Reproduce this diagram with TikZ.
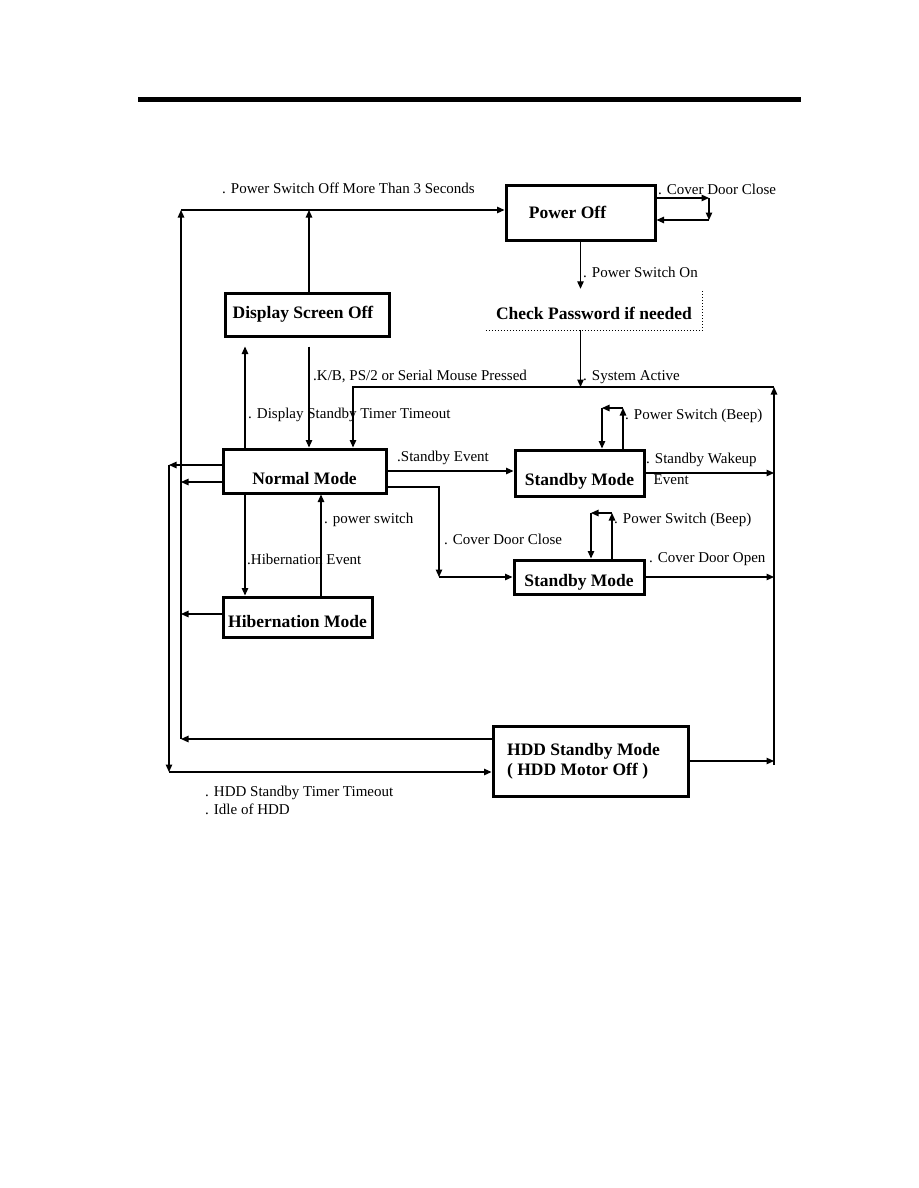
\documentclass[tikz,border=0pt]{standalone}
\usepackage{fontspec}
\setmainfont{Liberation Serif}
\usepackage{tikz}
\usetikzlibrary{arrows.meta, calc, positioning}

\begin{document}
\begin{tikzpicture}[
        x=1pt,
        y=-1pt,
        line join=miter,
        flow/.style={line width=1.2pt, -{Triangle[length=7.5pt, width=6.5pt]}},
        statebox/.style={draw, line width=3pt, inner sep=0pt,
            font=\fontsize{17.5}{20}\selectfont\bfseries},
        tag/.style={anchor=west, inner sep=0pt,
            font=\fontsize{15}{17}\selectfont}
    ]

        \useasboundingbox (0,0) rectangle (918,1188);

        % =================================
        % THANH TIÊU ĐỀ
        % =================================
        \draw[line width=5pt] (138,99.5) -- (801,99.5);

        % =================================
        % CÁC HỘP TRẠNG THÁI
        % =================================
        \node[statebox, minimum width=149, minimum height=55]
            (poweroff) at (580.5,212.5) {Power Off\hspace*{26pt}};
        \node[statebox, minimum width=164, minimum height=43]
            (dispoff) at (307,314.5) {Display Screen Off\hspace*{8pt}};
        \node[statebox, minimum width=163, minimum height=44,
            text height=27.6pt, text depth=0pt]
            (normal) at (304.5,471) {Normal Mode};
        \node[statebox, minimum width=149, minimum height=40,
            text height=21.6pt, text depth=0pt]
            (hiber) at (297.5,617) {Hibernation Mode};
        \node[statebox, minimum width=129, minimum height=46,
            text height=25.6pt, text depth=0pt]
            (standbyA) at (579.5,473) {Standby Mode};
        \node[statebox, minimum width=130, minimum height=34,
            text height=19.6pt, text depth=0pt]
            (standbyB) at (579,577) {Standby Mode};
        \node[statebox, minimum width=195, minimum height=70, align=left]
            (hdd) at (590.5,761) {HDD Standby Mode\hspace*{14pt}\\( HDD Motor Off )};

        % Check Password - khung chấm
        \node[inner sep=0pt, minimum width=216, minimum height=41,
            text height=20.6pt, text depth=0pt,
            font=\fontsize{17.5}{20}\selectfont\bfseries]
            (check) at (594,309.5) {Check Password if needed};
        \draw[dotted, line width=1pt]
            (check.south west) -- (check.south east) -- (check.north east);

        % =================================
        % ĐIỂM GÓC
        % =================================
        \coordinate (topL) at (181,210);
        \coordinate (outerBot) at (169,772);
        \coordinate (rightTop) at (774,387);
        \coordinate (rightBot) at (774,765);
        \coordinate (kbCorner) at (353,387);
        \coordinate (coverBot) at (439,577);
        \coordinate (doorTop) at (709,198);
        \coordinate (doorBot) at (709,220);
        \coordinate (beepA) at (602,408);
        \coordinate (beepB) at (591,513);

        % =================================
        % ĐƯỜNG NỐI
        % =================================

        % trục trái trong + đường trên
        \draw[flow] ([yshift=22]hdd.west) -- ([yshift=22]hdd.west -| topL);
        \draw[flow] ([yshift=22]hdd.west -| topL) -- (topL);
        \draw[flow] (topL) -- (topL -| poweroff.west);
        \draw[flow] ([xshift=2]dispoff.north) -- ([xshift=2]dispoff.north |- topL);

        % Cover Door Close (Power Off)
        \draw[flow] (poweroff.east |- doorTop) -- (doorTop);
        \draw[flow] (doorTop) -- (doorBot);
        \draw[flow] (doorBot) -- (doorBot -| poweroff.east);

        % Power Off -> Check -> System Active
        \draw[flow] (poweroff.south) -- (poweroff.south |- check.north);
        \draw[flow] (poweroff.south |- check.south) -- (poweroff.south |- rightTop);

        % trục phải
        \draw[flow] (rightBot) -- (rightTop);
        \draw[flow] (rightTop) -- (kbCorner) -- (kbCorner |- normal.north);

        % Display Screen Off <-> Normal Mode
        \draw[flow, shorten <=9pt] ([xshift=2]dispoff.south)
            -- ([xshift=2]dispoff.south |- normal.north);
        \draw[flow, shorten >=9pt] ([xshift=-59.5]normal.north)
            -- ([xshift=-59.5]normal.north |- dispoff.south);

        % Normal Mode -> trái
        \draw[flow] ([yshift=6]normal.west) -- ([yshift=6]normal.west -| outerBot);
        \draw[flow] ([yshift=-11]normal.west) -- ([yshift=-11]normal.west -| topL);
        \draw[flow] ([yshift=6]normal.west -| outerBot) -- (outerBot);
        \draw[flow] (outerBot) -- (outerBot -| hdd.west);

        % Normal Mode <-> Hibernation Mode
        \draw[flow] ([xshift=-59.5]normal.south) -- ([xshift=-59.5]normal.south |- hiber.north);
        \draw[flow] ([xshift=16.5]normal.south |- hiber.north) -- ([xshift=16.5]normal.south);
        \draw[flow] ([yshift=3]hiber.west) -- ([yshift=3]hiber.west -| topL);

        % Normal Mode -> Standby Mode
        \draw[flow] (normal.east) -- (normal.east -| standbyA.west);
        \draw[flow] ([yshift=-16]normal.east) -| (coverBot);
        \draw[flow] (coverBot) -- (coverBot -| standbyB.west);

        % vòng Power Switch (Beep)
        \draw[flow] ([xshift=43.5]standbyA.north) -- ([xshift=43.5]standbyA.north |- beepA);
        \draw[flow] ([xshift=43.5]standbyA.north |- beepA) -- (beepA);
        \draw[flow] (beepA) -- (beepA |- standbyA.north);
        \draw[flow] ([xshift=33]standbyB.north) -- ([xshift=33]standbyB.north |- beepB);
        \draw[flow] ([xshift=33]standbyB.north |- beepB) -- (beepB);
        \draw[flow] (beepB) -- (beepB |- standbyB.north);

        % -> trục phải
        \draw[flow] (standbyA.east) -- (standbyA.east -| rightBot);
        \draw[flow] (standbyB.east) -- (standbyB.east -| rightBot);
        \draw[flow] (hdd.east) -- (hdd.east -| rightBot);

        % =================================
        % NHÃN
        % =================================
        \node[tag] (tOffLong) at (222,188) {. Power Switch Off More Than 3 Seconds};
        \node[tag] (tDoorA) at (658,189) {. Cover Door Close};
        \node[tag] (tSwOn) at (583,272) {. Power Switch On};
        \node[tag] (tKb) at (313,376) {.K/B, PS/2 or Serial Mouse Pressed};
        \node[tag] (tSys) at (583,377) {. System Active};
        \node[tag] (tDisp) at (248,415) {. Display Standby Timer Timeout};
        \node[tag] (tBeepA) at (625,416) {. Power Switch (Beep)};
        \node[tag] (tStby) at (397,458) {.Standby Event};
        \node[tag, align=left, font=\fontsize{15}{21}\selectfont]
            (tWake) at (646,469) {. Standby Wakeup\\\phantom{.\ }Event};
        \node[tag] (tPwr) at (324,520) {. power switch};
        \node[tag] (tBeepB) at (614,520) {. Power Switch (Beep)};
        \node[tag] (tDoorB) at (444,539) {. Cover Door Close};
        \node[tag] (tHib) at (247,559) {.Hibernation Event};
        \node[tag] (tDoorOpen) at (649,559) {. Cover Door Open};
        \node[tag, align=left, font=\fontsize{15}{18}\selectfont]
            (tHdd) at (205,800) {. HDD Standby Timer Timeout\\. Idle of HDD};

    \end{tikzpicture}
\end{document}
